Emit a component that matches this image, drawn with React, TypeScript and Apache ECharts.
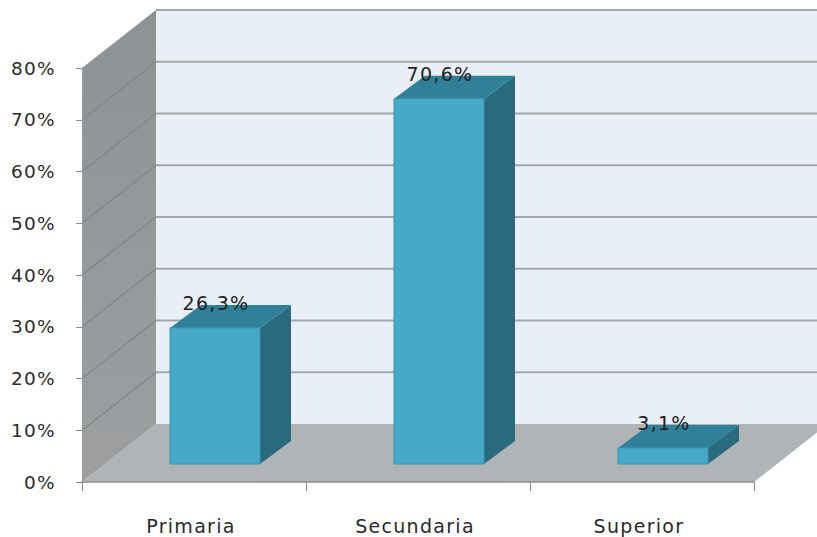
import React, { useEffect, useRef } from "react";
import * as echarts from "echarts";

const categories = ["Primaria", "Secundaria", "Superior"];
const values = [26.3, 70.6, 3.1];
const valueLabels = ["26,3%", "70,6%", "3,1%"];
const gridValues = [0, 10, 20, 30, 40, 50, 60, 70, 80];

const DEPTH_X = 74;
const DEPTH_Y = -58;

export default function App() {
  const ref = useRef<HTMLDivElement>(null);
  useEffect(() => {
    document.body.style.margin = "0";
    const chart = echarts.init(ref.current!, undefined, { renderer: "svg" });
    const option: any = {
      animation: false,
      backgroundColor: "#ffffff",
      grid: { left: 82, right: 63, top: 68, bottom: 55 },
      xAxis: {
        type: "category",
        data: categories,
        axisLine: { show: true, lineStyle: { color: "#8a8d8f", width: 1.5 } },
        axisTick: { show: true, length: 9, alignWithLabel: false, lineStyle: { color: "#8a8d8f" } },
        axisLabel: { margin: 34, fontSize: 19, color: "#2a2a2a", fontFamily: "DejaVu Sans", padding: [0, 6, 0, 0] },
        splitLine: { show: false },
        z: 5,
      },
      yAxis: {
        type: "value",
        min: 0,
        max: 80,
        interval: 10,
        axisLine: { show: true, lineStyle: { color: "#9a9d9f", width: 1 } },
        axisTick: { show: true, length: 6, lineStyle: { color: "#8a8d8f" } },
        axisLabel: {
          margin: 26,
          fontSize: 18.5,
          color: "#2a2a2a",
          fontFamily: "DejaVu Sans",
          formatter: (v: number) => v + "%",
        },
        splitLine: { show: false },
        z: 5,
      },
      series: [
        {
          type: "custom",
          coordinateSystem: "cartesian2d",
          silent: true,
          z: 1,
          data: gridValues.map((v) => [0, v]),
          renderItem: (params: any, api: any) => {
            const v = api.value(1);
            const left = api.coord([0, 0])[0] - (params.coordSys.width / 6);
            const right = left + params.coordSys.width;
            const [, y] = api.coord([0, v]);
            const [, y0] = api.coord([0, 0]);
            const [, yTop] = api.coord([0, 80]);
            const children: any[] = [];
            if (params.dataIndex === 0) {
              children.push(
                {
                  type: "rect",
                  shape: { x: left + DEPTH_X, y: yTop + DEPTH_Y, width: right - left, height: y0 - yTop },
                  style: { fill: "#e8eff6" },
                },
                {
                  type: "polygon",
                  shape: {
                    points: [
                      [left, y0],
                      [left + DEPTH_X, y0 + DEPTH_Y],
                      [right + DEPTH_X, y0 + DEPTH_Y],
                      [right, y0],
                    ],
                  },
                  style: { fill: "#b1b4b7" },
                },
                {
                  type: "polygon",
                  shape: {
                    points: [
                      [left, y0],
                      [left + DEPTH_X, y0 + DEPTH_Y],
                      [left + DEPTH_X, yTop + DEPTH_Y],
                      [left, yTop],
                    ],
                  },
                  style: {
                    fill: {
                      type: "linear",
                      x: 0,
                      y: 0,
                      x2: 0,
                      y2: 1,
                      colorStops: [
                        { offset: 0, color: "#8d9395" },
                        { offset: 1, color: "#9d9fa1" },
                      ],
                    },
                  },
                }
              );
            }
            if (v > 0) {
              children.push({
                type: "line",
                shape: { x1: left + DEPTH_X, y1: y + DEPTH_Y, x2: right + DEPTH_X, y2: y + DEPTH_Y },
                style: { stroke: "#a3a7a9", lineWidth: 2 },
              });
            }
            if (v > 0 && v < 80) {
              children.push({
                type: "line",
                shape: { x1: left, y1: y, x2: left + DEPTH_X, y2: y + DEPTH_Y },
                style: { stroke: "#858787", lineWidth: 1.5 },
              });
            }
            return { type: "group", children };
          },
        },
        {
          type: "custom",
          coordinateSystem: "cartesian2d",
          silent: true,
          z: 2,
          data: categories.map((c, i) => [i, values[i]]),
          renderItem: (params: any, api: any) => {
            const i = api.value(0);
            const v = api.value(1);
            const [cx, y0] = api.coord([i, 0]);
            const [, yv] = api.coord([i, v]);
            const fx = cx + 21 - 45;
            const fw = 90;
            const bottom = y0 - 18;
            const top = bottom - (y0 - yv);
            const dx = 31;
            const dy = -23;
            return {
              type: "group",
              children: [
                {
                  type: "polygon",
                  shape: { points: [[fx + fw, bottom], [fx + fw + dx, bottom + dy], [fx + fw + dx, top + dy], [fx + fw, top]] },
                  style: { fill: "#2a6a7f" },
                },
                {
                  type: "polygon",
                  shape: { points: [[fx, top], [fx + dx, top + dy], [fx + fw + dx, top + dy], [fx + fw, top]] },
                  style: { fill: "#30809a" },
                },
                {
                  type: "rect",
                  shape: { x: fx, y: top, width: fw, height: bottom - top },
                  style: { fill: "#47a9c8", stroke: "#3a93ae", lineWidth: 1 },
                },
                {
                  type: "text",
                  style: {
                    text: valueLabels[params.dataIndex],
                    x: fx + fw / 2 + 1,
                    y: top - 25,
                    align: "center",
                    verticalAlign: "middle",
                    fontSize: 19,
                    fontFamily: "DejaVu Sans",
                    fill: "#222222",
                  },
                },
              ],
            };
          },
        },
      ],
    };
    chart.setOption(option);
    return () => chart.dispose();
  }, []);
  return <div ref={ref} style={{ width: 817, height: 537, letterSpacing: "1.3px" }} />;
}
